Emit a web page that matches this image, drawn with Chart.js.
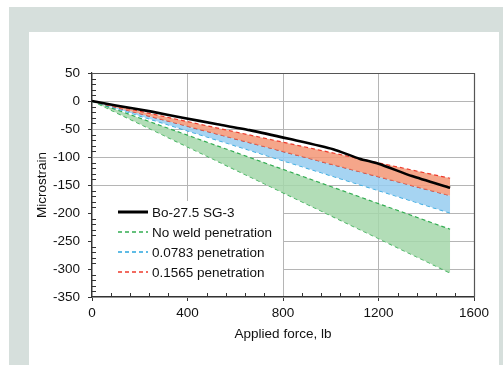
<!DOCTYPE html>
<html>
<head>
<meta charset="utf-8">
<script src="https://cdn.jsdelivr.net/npm/chart.js@4.4.1/dist/chart.umd.min.js"></script>
<style>
html,body{margin:0;padding:0;background:#fff;overflow:hidden;}
#c{display:block;}
</style>
</head>
<body>
<canvas id="c" width="503" height="365"></canvas>
<script>
// ---- data ----
const forceBo = [0, 100, 250, 380, 520, 660, 830, 1010, 1120, 1200, 1340, 1500];
const strainBo = [0, -8, -19, -30, -41, -52, -68, -86, -103, -112, -134, -155];
const forceBand = [0, 1500];
const noWeldUpper = [0, -229];
const noWeldLower = [0, -307];
const pen0783Upper = [0, -169];
const pen0783Lower = [0, -200];
const pen1565Upper = [0, -138];
const pen1565Lower = [0, -169];
const xTicks = [0, 400, 800, 1200, 1600];
const yTicks = [50, 0, -50, -100, -150, -200, -250, -300, -350];
const legendLabels = ['Bo-27.5 SG-3', 'No weld penetration', '0.0783 penetration', '0.1565 penetration'];

const FONT = "'Liberation Sans', Arial, sans-serif";
const TXT = '#111111';
const toPts = (xs, ys) => xs.map((x, i) => ({x: x, y: ys[i]}));

const RED = '#ee3b2c', BLUE = '#2ba6de', GREEN = '#33ad52';
const dash = [4, 3];

const bgPlugin = {
  id: 'bg',
  beforeDraw(chart) {
    const ctx = chart.ctx;
    ctx.save();
    ctx.fillStyle = '#ffffff';
    ctx.fillRect(0, 0, 503, 365);
    ctx.fillStyle = '#d6dfdc';
    ctx.fillRect(9, 7, 494, 358);
    ctx.fillStyle = '#ffffff';
    ctx.fillRect(29, 32, 470, 333);
    ctx.restore();
  }
};

const legendPlugin = {
  id: 'customLegend',
  afterDatasetsDraw(chart) {
    const ctx = chart.ctx;
    const a = chart.chartArea;
    ctx.save();
    ctx.fillStyle = '#ffffff';
    ctx.fillRect(a.left + 1, 201, 283 - a.left - 1, a.bottom - 201 - 1);
    const styles = [
      {c: '#000000', w: 3, d: []},
      {c: GREEN, w: 1.3, d: dash},
      {c: BLUE, w: 1.3, d: dash},
      {c: RED, w: 1.3, d: dash}
    ];
    const y0 = 212, dy = 20;
    ctx.font = '13.5px ' + FONT;
    ctx.textBaseline = 'middle';
    ctx.textAlign = 'left';
    legendLabels.forEach((lab, i) => {
      const y = y0 + i * dy;
      ctx.beginPath();
      ctx.setLineDash(styles[i].d);
      ctx.strokeStyle = styles[i].c;
      ctx.lineWidth = styles[i].w;
      ctx.moveTo(118, y);
      ctx.lineTo(148, y);
      ctx.stroke();
      ctx.setLineDash([]);
      ctx.fillStyle = TXT;
      ctx.fillText(lab, 152, y + 1);
    });
    ctx.restore();
  },
  afterDraw(chart) {
    const ctx = chart.ctx;
    const a = chart.chartArea;
    const xs = chart.scales.x, ys = chart.scales.y;
    ctx.save();
    ctx.strokeStyle = '#555555';
    ctx.lineWidth = 1.2;
    ctx.beginPath();
    ctx.moveTo(a.left, a.top + 0.5);
    ctx.lineTo(a.right + 0.5, a.top + 0.5);
    ctx.lineTo(a.right + 0.5, a.bottom);
    ctx.stroke();
    ctx.strokeStyle = '#333333';
    ctx.lineWidth = 1;
    ctx.beginPath();
    for (let v = 0; v <= 1600; v += 80) {
      if (v % 400 === 0) continue;
      const px = Math.round(xs.getPixelForValue(v)) + 0.5;
      ctx.moveTo(px, a.bottom);
      ctx.lineTo(px, a.bottom - 4);
    }
    for (let v = -350; v <= 50; v += 10) {
      if (v % 50 === 0) continue;
      const py = Math.round(ys.getPixelForValue(v)) + 0.5;
      ctx.moveTo(a.left, py);
      ctx.lineTo(a.left + 4, py);
    }
    ctx.stroke();
    ctx.restore();
  }
};

new Chart(document.getElementById('c'), {
  type: 'line',
  data: {
    datasets: [
      {label: legendLabels[0], data: toPts(forceBo, strainBo), borderColor: '#000', borderWidth: 2.6, pointRadius: 0, fill: false, tension: 0.2},
      {label: '0.1565 upper', data: toPts(forceBand, pen1565Upper), borderColor: RED, borderWidth: 1.2, borderDash: dash, pointRadius: 0, fill: '+1', backgroundColor: 'rgba(243,150,118,0.85)'},
      {label: '0.1565 lower', data: toPts(forceBand, pen1565Lower), borderColor: RED, borderWidth: 1.2, borderDash: dash, pointRadius: 0, fill: false},
      {label: '0.0783 upper', data: toPts(forceBand, pen0783Upper), borderColor: BLUE, borderWidth: 1.2, borderDash: dash, pointRadius: 0, fill: '+1', backgroundColor: 'rgba(150,205,240,0.85)'},
      {label: '0.0783 lower', data: toPts(forceBand, pen0783Lower), borderColor: BLUE, borderWidth: 1.2, borderDash: dash, pointRadius: 0, fill: false},
      {label: 'No weld upper', data: toPts(forceBand, noWeldUpper), borderColor: GREEN, borderWidth: 1.2, borderDash: dash, pointRadius: 0, fill: '+1', backgroundColor: 'rgba(165,215,170,0.85)'},
      {label: 'No weld lower', data: toPts(forceBand, noWeldLower), borderColor: GREEN, borderWidth: 1.2, borderDash: dash, pointRadius: 0, fill: false}
    ]
  },
  options: {
    responsive: false,
    animation: false,
    layout: {padding: {left: 30, top: 73, right: 29, bottom: 19}},
    plugins: {legend: {display: false}, tooltip: {enabled: false}},
    scales: {
      x: {
        type: 'linear', min: 0, max: 1600,
        afterBuildTicks(s) { s.ticks = xTicks.map(v => ({value: v})); },
        afterFit(s) { s.height = 49; },
        grid: {color: '#b5b5b5', lineWidth: 1, tickLength: 4, tickColor: '#333', drawOnChartArea: true},
        border: {color: '#333', width: 1.2},
        ticks: {padding: 4, color: TXT, font: {family: FONT, size: 13.5}, callback: v => String(v), maxRotation: 0},
        title: {display: true, text: 'Applied force, lb', color: TXT, font: {family: FONT, size: 13.5}, padding: {top: 4, bottom: 4}}
      },
      y: {
        type: 'linear', min: -350, max: 50,
        afterBuildTicks(s) { s.ticks = yTicks.map(v => ({value: v})); },
        afterFit(s) { s.width = 62; },
        grid: {color: '#b5b5b5', lineWidth: 1, tickLength: 4, tickColor: '#333'},
        border: {color: '#333', width: 1.2},
        ticks: {padding: 8, color: TXT, font: {family: FONT, size: 13.5}, callback: v => String(v)},
        title: {display: true, text: 'Microstrain', color: TXT, font: {family: FONT, size: 13.5}, padding: {top: 4, bottom: 4}}
      }
    }
  },
  plugins: [bgPlugin, legendPlugin]
});
</script>
</body>
</html>
